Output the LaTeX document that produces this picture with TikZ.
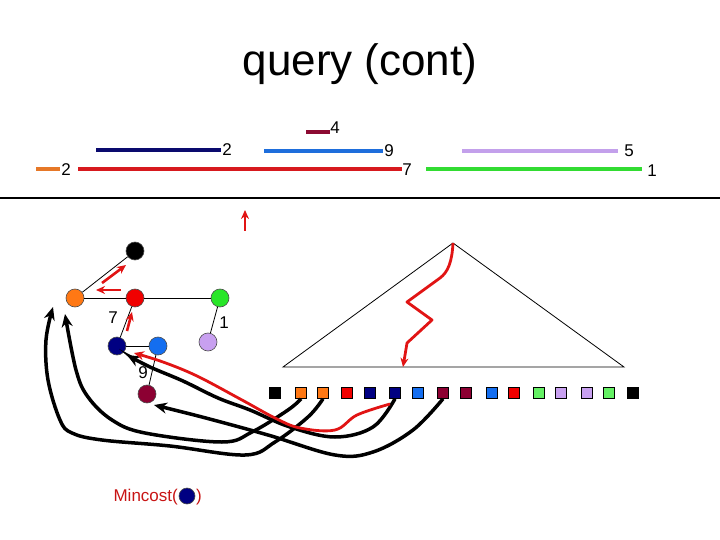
\documentclass[tikz,border=0pt]{standalone}
\usepackage{fontspec}
\setmainfont{Liberation Sans}
\usetikzlibrary{arrows.meta}
\definecolor{corange}{RGB}{255,120,20}
\definecolor{cred}{RGB}{240,0,0}
\definecolor{cgreen}{RGB}{40,230,40}
\definecolor{cnavy}{RGB}{0,0,130}
\definecolor{cblue}{RGB}{20,110,240}
\definecolor{clav}{RGB}{200,160,240}
\definecolor{cmaroon}{RGB}{140,0,50}
\definecolor{segred}{RGB}{215,25,30}
\definecolor{segorange}{RGB}{230,120,40}
\definecolor{seggreen}{RGB}{50,220,50}
\definecolor{segnavy}{RGB}{10,10,110}
\definecolor{segblue}{RGB}{30,110,220}
\definecolor{seglav}{RGB}{195,160,235}
\definecolor{segmaroon}{RGB}{140,10,50}
\definecolor{sqgreen}{RGB}{100,240,100}
\definecolor{redarrow}{RGB}{225,20,20}
\definecolor{mcred}{RGB}{200,20,20}
\begin{document}
\begin{tikzpicture}[x=1pt,y=-1pt,
  tn/.style={circle,draw=black!70,line width=0.6pt,minimum size=18pt,inner sep=0pt},
  sq/.style={rectangle,draw=black,line width=0.6pt,minimum size=11pt,inner sep=0pt},
  seg/.style={line width=4pt},
  lbl/.style={font=\fontsize{17}{19}\selectfont,inner sep=0pt},
  tedge/.style={line width=0.8pt},
  curve/.style={line width=3.5pt,-{Stealth[length=13pt,width=11pt]}},
  rarrow/.style={redarrow,line width=2.6pt,-{Stealth[length=9pt,width=8pt]}},
]
\useasboundingbox (0,0) rectangle (720,540);

% title
\node[font=\fontsize{44}{50}\selectfont,inner sep=0pt] (title) at (360,64) {query (cont)};

% segments
\draw[seg,segorange] (36,169) -- (60,169);
\node[lbl] (l1) at (66,170) {2};
\draw[seg,segred] (78,169) -- (402,169);
\node[lbl] (l2) at (407,170) {7};
\draw[seg,segnavy] (96,150) -- (221,150);
\node[lbl] (l3) at (227,150) {2};
\draw[seg,segblue] (264,151) -- (383,151);
\node[lbl] (l4) at (389,151) {9};
\draw[seg,segmaroon] (306,132) -- (330,132);
\node[lbl] (l5) at (335,128) {4};
\draw[seg,seglav] (462,151) -- (618,151);
\node[lbl] (l6) at (629,151) {5};
\draw[seg,seggreen] (426,169) -- (642,169);
\node[lbl] (l7) at (652,171) {1};

% separator
\draw[line width=1.2pt] (0,198) -- (720,198);

% small red arrow
\coordinate (ra1) at (245,231);
\coordinate (ra2) at (245,210);
\draw[rarrow] (ra1) -- (ra2);

% tree
\node[tn,fill=black] (nblack) at (135,251) {};
\node[tn,fill=corange] (norange) at (75,298) {};
\node[tn,fill=cred] (nred) at (135,298) {};
\node[tn,fill=cgreen] (ngreen) at (220,298) {};
\node[tn,fill=cnavy] (nnavy) at (117,346) {};
\node[tn,fill=cblue] (nblue) at (158,346) {};
\node[tn,fill=clav] (nlav) at (208,342) {};
\node[tn,fill=cmaroon] (nmaroon) at (147,394) {};
\draw[tedge] (norange) -- (nblack);
\draw[tedge] (norange) -- (nred);
\draw[tedge] (nred) -- (ngreen);
\draw[tedge] (nred) -- (nnavy);
\draw[tedge] (nnavy) -- (nblue);
\draw[tedge] (nblue) -- (nmaroon);
\draw[tedge] (ngreen) -- (nlav);
\node[lbl] (e7) at (113,318) {7};
\node[lbl] (e1) at (224,323) {1};
\node[lbl] (e9) at (143,373) {9};

% red tree arrows
\coordinate (ta1) at (102,283); \coordinate (tb1) at (126,265);
\coordinate (ta2) at (121,290); \coordinate (tb2) at (96,290);
\coordinate (ta3) at (127,331); \coordinate (tb3) at (132,312);
\draw[rarrow] (ta1) -- (tb1);
\draw[rarrow] (ta2) -- (tb2);
\draw[rarrow] (ta3) -- (tb3);

% triangle
\coordinate (tA) at (453,243);
\coordinate (tL) at (283,367);
\coordinate (tR) at (624,367);
\draw[line width=0.8pt] (tA) -- (tL) -- (tR) -- cycle;
\coordinate (zend) at (403,367);
\draw[redarrow,line width=2.8pt,line join=round,-{Stealth[length=9pt,width=8pt]}]
  (tA) .. controls (452,262) and (448,272) .. (440,278) -- (407,302) -- (432,320) -- (407,343) -- (zend);

% squares
\foreach \i/\x/\c in {1/275/black,2/301/corange,3/323/corange,4/347/cred,5/370/cnavy,6/395/cnavy,7/418/cblue,8/443/cmaroon,9/466/cmaroon,10/492/cblue,11/514/cred,12/539/sqgreen,13/561/clav,14/587/clav,15/609/sqgreen,16/633/black}
  \node[sq,fill=\c] (s\i) at (\x,393) {};

% black curves
\coordinate (tipo1) at (53,307);
\coordinate (tipo2) at (65,314);
\coordinate (tipn) at (127,355);
\coordinate (tipm) at (154,405);
\draw[curve] plot[smooth,tension=0.6] coordinates {(s3.south) (308,417) (275,442) (245,455) (170,446) (102,440) (72,433) (60,420) (48,380) (46,340) (tipo1)};
\draw[curve] plot[smooth,tension=0.6] coordinates {(s2.south) (288,410) (252,432) (222,442) (145,433) (112,420) (88,397) (76,370) (tipo2)};
\draw[curve] plot[smooth,tension=0.6] coordinates {(s6.south) (373,427) (335,437) (290,427) (250,410) (218,398) (183,381) (150,367) (tipn)};
\draw[curve] plot[smooth,tension=0.6] coordinates {(s8.south) (413,430) (373,452) (335,455) (268,435) (202,417) (tipm)};

% red long curve
\coordinate (rstart) at (390,404);
\coordinate (rtip) at (134,353);
\draw[redarrow,line width=2.8pt,-{Stealth[length=10pt,width=9pt]}] plot[smooth,tension=0.6] coordinates {(rstart) (357,415) (335,430) (300,428) (275,418) (242,400) (197,376) (163,362) (rtip)};

% Mincost
\node[lbl,text=mcred,anchor=east,font=\fontsize{17}{20}\selectfont] (mc) at (178,497) {Mincost(};
\node[tn,fill=cnavy,minimum size=16pt] (mcn) at (187,496) {};
\node[lbl,text=mcred,font=\fontsize{17}{20}\selectfont] (mcp) at (199,497) {)};
\end{tikzpicture}
\end{document}
